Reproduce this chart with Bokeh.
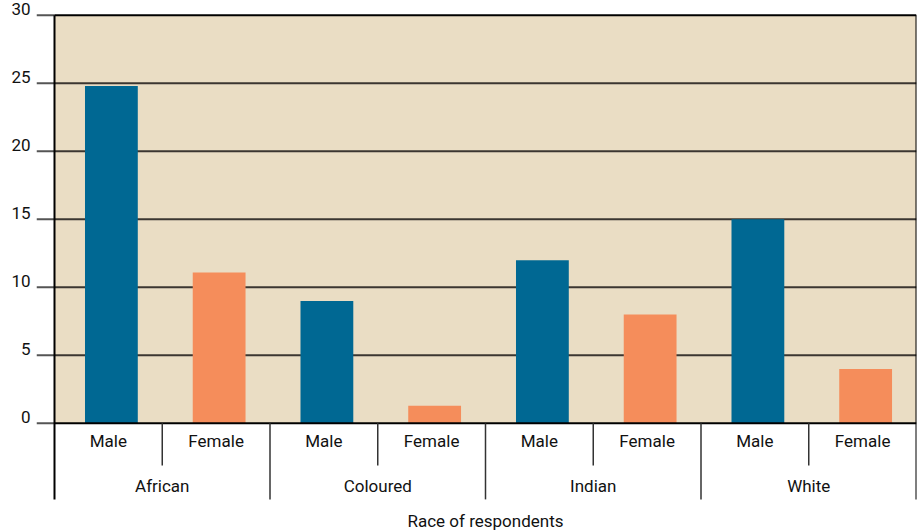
from bokeh.plotting import figure
from bokeh.models import Range1d, FixedTicker, ColumnDataSource, CustomJSTickFormatter
from bokeh.core.properties import value
from bokeh.embed import file_html
from bokeh.resources import INLINE

races = ["African", "Coloured", "Indian", "White"]
sexes = ["Male", "Female"]
values = {
    "African": [24.8, 11.1],
    "Coloured": [9.0, 1.3],
    "Indian": [12.0, 8.0],
    "White": [15.0, 4.0],
}
y_ticks = [0, 5, 10, 15, 20, 25, 30]
x_title = "Race of respondents"

FONT = "Roboto"
FS = "17px"
BLUE = "#006893"
ORANGE = "#F58D5B"
BEIGE = "#EADDC4"
TXT = "#111111"

# slot positions (one unit per race/sex slot) derived from the category lists
n_sex = len(sexes)
n_slots = len(races) * n_sex
slot_x = [ri * n_sex + si + 0.5 for ri in range(len(races)) for si in range(n_sex)]
race_x = [ri * n_sex + n_sex / 2 for ri in range(len(races))]
counts = [values[r][si] for r in races for si in range(n_sex)]
colors = [BLUE if s == "Male" else ORANGE for r in races for s in sexes]
slot_labels = [s for r in races for s in sexes]

TICK_LEN = 18 / 107.75        # tick marks stick out left of the plot area
BAR_SHIFT = 0.028              # bars sit slightly right of slot centres
Y_AXIS_END = -5.59             # bottom of the category separators
Y_MIN = -7.95                  # room for the axis title
Y_TOP = 30.5
LABEL_SHIFT = 0.45

p = figure(width=919, height=531, output_backend="svg", toolbar_location=None,
           x_range=Range1d(-TICK_LEN, n_slots), y_range=Range1d(Y_MIN, Y_TOP),
           min_border_left=36, min_border_right=3, min_border_top=8, min_border_bottom=0)
p.background_fill_color = "white"
p.border_fill_color = "white"
p.outline_line_color = None
p.xgrid.grid_line_color = None
p.ygrid.grid_line_color = None
p.xaxis.visible = False

# beige plot area
p.quad(left=[0], right=[n_slots], bottom=[y_ticks[0]], top=[y_ticks[-1]],
       fill_color=BEIGE, line_color=None)

# grid lines and tick marks
inner = y_ticks[1:-1]
p.segment(x0=[0] * len(inner), x1=[n_slots] * len(inner), y0=inner, y1=inner,
          line_color="#3b3631", line_width=2)
p.segment(x0=[-TICK_LEN] * len(y_ticks), x1=[0] * len(y_ticks), y0=y_ticks, y1=y_ticks,
          line_color="#555555", line_width=2)

# bars
src = ColumnDataSource(dict(x=[x + BAR_SHIFT for x in slot_x], top=counts, color=colors))
p.vbar(x="x", top="top", width=0.49, bottom=0, color="color", source=src, line_color=None)

# frame lines
edge = [y_ticks[0], y_ticks[-1]]
p.segment(x0=[0, 0], x1=[n_slots, n_slots], y0=edge, y1=edge, line_color="black", line_width=2)
p.segment(x0=[0, n_slots], x1=[0, n_slots], y0=[Y_AXIS_END] * 2, y1=[y_ticks[-1]] * 2,
          line_color="black", line_width=2)

# y labels sitting just above each tick
yax = p.yaxis[0]
yax.ticker = FixedTicker(ticks=[t + LABEL_SHIFT for t in y_ticks])
yax.formatter = CustomJSTickFormatter(code="return (tick - %s).toFixed(0)" % LABEL_SHIFT)
yax.axis_line_color = None
yax.major_tick_line_color = None
yax.minor_tick_line_color = None
yax.major_label_standoff = 0
yax.major_label_text_font = FONT
yax.major_label_text_font_size = FS
yax.major_label_text_color = TXT

# category labels under the bars
p.text(x=slot_x, y=[-1.32] * len(slot_x), text=slot_labels,
       text_font=value(FONT), text_font_size=FS, text_align="center",
       text_baseline="middle", text_color=TXT)
p.text(x=race_x, y=[-4.63] * len(race_x), text=races,
       text_font=value(FONT), text_font_size=FS, text_align="center",
       text_baseline="middle", text_color=TXT)
p.text(x=[n_slots / 2], y=[-7.2], text=[x_title],
       text_font=value(FONT), text_font_size=FS, text_align="center",
       text_baseline="middle", text_color=TXT)

# separators
sub_sep = [ri * n_sex + 1 for ri in range(len(races))]
p.segment(x0=sub_sep, x1=sub_sep, y0=[0] * len(sub_sep), y1=[-3.09] * len(sub_sep),
          line_color="#333333", line_width=1.5)
race_sep = [ri * n_sex for ri in range(1, len(races))]
p.segment(x0=race_sep, x1=race_sep, y0=[0] * len(race_sep), y1=[Y_AXIS_END] * len(race_sep),
          line_color="#333333", line_width=1.5)

open("out.html", "w").write(file_html(p, INLINE))
